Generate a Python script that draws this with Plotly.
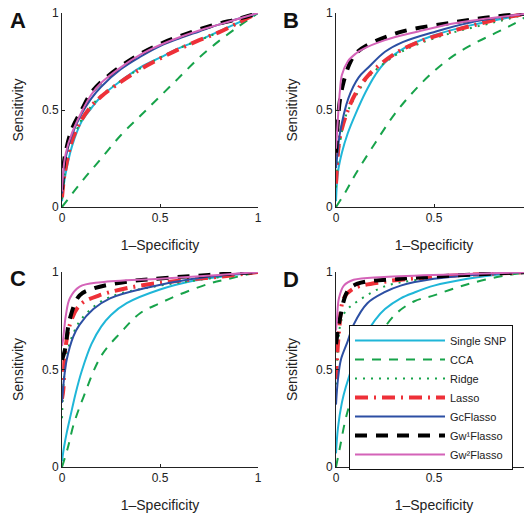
import plotly.graph_objects as go

methods = ["Single SNP", "CCA", "Ridge", "Lasso", "GcFlasso", "Gw\u00b9Flasso", "Gw\u00b2Flasso"]
panel_labels = ["A", "B", "C", "D"]
tick_vals = [0, 0.5, 1]
tick_text = ["0", "0.5", "1"]

# ---- Panel A (1-specificity, sensitivity) ----
A_snp_x = [0, 0.01, 0.02, 0.05, 0.1, 0.15, 0.2, 0.3, 0.4, 0.5, 0.6, 0.7, 0.8, 0.9, 1]
A_snp_y = [0.03, 0.12, 0.18, 0.31, 0.44, 0.51, 0.57, 0.65, 0.72, 0.77, 0.82, 0.86, 0.905, 0.95, 1]
A_cca_x = [0, 0.1, 0.2, 0.3, 0.4, 0.5, 0.6, 0.7, 0.8, 0.9, 1]
A_cca_y = [0, 0.13, 0.25, 0.37, 0.47, 0.57, 0.67, 0.77, 0.855, 0.93, 1]
A_ridge_x = [0, 0.01, 0.02, 0.05, 0.1, 0.15, 0.2, 0.3, 0.4, 0.5, 0.6, 0.7, 0.8, 0.9, 1]
A_ridge_y = [0.04, 0.14, 0.20, 0.33, 0.45, 0.52, 0.575, 0.65, 0.715, 0.77, 0.82, 0.86, 0.90, 0.95, 1]
A_lasso_x = [0, 0.01, 0.02, 0.05, 0.1, 0.15, 0.2, 0.3, 0.4, 0.5, 0.6, 0.7, 0.8, 0.9, 1]
A_lasso_y = [0.05, 0.15, 0.21, 0.34, 0.45, 0.52, 0.57, 0.645, 0.71, 0.765, 0.815, 0.86, 0.90, 0.95, 1]
A_gc_x = [0, 0.01, 0.02, 0.05, 0.1, 0.15, 0.2, 0.3, 0.4, 0.5, 0.6, 0.7, 0.8, 0.9, 1]
A_gc_y = [0.07, 0.20, 0.26, 0.37, 0.48, 0.56, 0.62, 0.71, 0.775, 0.83, 0.87, 0.905, 0.94, 0.97, 1]
A_gw1_x = [0, 0.01, 0.02, 0.05, 0.1, 0.15, 0.2, 0.3, 0.4, 0.5, 0.6, 0.7, 0.8, 0.9, 1]
A_gw1_y = [0.09, 0.23, 0.29, 0.40, 0.50, 0.59, 0.645, 0.725, 0.79, 0.84, 0.88, 0.915, 0.945, 0.97, 1]
A_gw2_x = [0, 0.01, 0.02, 0.05, 0.1, 0.15, 0.2, 0.3, 0.4, 0.5, 0.6, 0.7, 0.8, 0.9, 1]
A_gw2_y = [0.08, 0.22, 0.28, 0.38, 0.49, 0.58, 0.64, 0.72, 0.785, 0.835, 0.875, 0.91, 0.94, 0.97, 1]

# ---- Panel B ----
B_snp_x = [0, 0.01, 0.03, 0.06, 0.1, 0.15, 0.2, 0.25, 0.35, 0.5, 0.68, 0.85, 1]
B_snp_y = [0.03, 0.18, 0.28, 0.38, 0.48, 0.59, 0.68, 0.745, 0.82, 0.885, 0.935, 0.97, 1]
B_cca_x = [0, 0.05, 0.1, 0.2, 0.3, 0.4, 0.5, 0.6, 0.7, 0.8, 0.9, 1]
B_cca_y = [0, 0.08, 0.17, 0.33, 0.48, 0.60, 0.70, 0.78, 0.84, 0.89, 0.94, 1]
B_ridge_x = [0, 0.01, 0.02, 0.05, 0.1, 0.166, 0.3, 0.42, 0.6, 0.8, 1]
B_ridge_y = [0.10, 0.25, 0.33, 0.47, 0.57, 0.67, 0.78, 0.84, 0.90, 0.95, 1]
B_lasso_x = [0, 0.01, 0.02, 0.05, 0.097, 0.166, 0.3, 0.42, 0.64, 0.88, 1]
B_lasso_y = [0.12, 0.28, 0.36, 0.47, 0.58, 0.68, 0.79, 0.85, 0.92, 0.98, 1]
B_gc_x = [0, 0.01, 0.02, 0.063, 0.115, 0.166, 0.25, 0.34, 0.51, 0.68, 0.85, 1]
B_gc_y = [0.20, 0.30, 0.38, 0.56, 0.667, 0.72, 0.80, 0.85, 0.905, 0.95, 0.98, 1]
B_gw1_x = [0, 0.01, 0.02, 0.04, 0.07, 0.1, 0.17, 0.34, 0.59, 0.8, 1]
B_gw1_y = [0.28, 0.45, 0.55, 0.65, 0.74, 0.79, 0.84, 0.905, 0.95, 0.98, 1]
B_gw2_x = [0, 0.01, 0.02, 0.03, 0.06, 0.1, 0.13, 0.25, 0.42, 0.59, 0.76, 1]
B_gw2_y = [0.30, 0.46, 0.60, 0.68, 0.75, 0.79, 0.81, 0.86, 0.905, 0.945, 0.97, 1]

# ---- Panel C ----
C_snp_x = [0, 0.01, 0.025, 0.045, 0.07, 0.1, 0.15, 0.2, 0.25, 0.33, 0.5, 0.67, 0.84, 1]
C_snp_y = [0.03, 0.10, 0.18, 0.27, 0.38, 0.49, 0.63, 0.72, 0.78, 0.84, 0.91, 0.955, 0.98, 1]
C_cca_x = [0, 0.03, 0.06, 0.11, 0.2, 0.3, 0.4, 0.5, 0.6, 0.75, 0.85, 1]
C_cca_y = [0, 0.10, 0.22, 0.36, 0.57, 0.69, 0.79, 0.84, 0.885, 0.94, 0.965, 1]
C_ridge_x = [0, 0.01, 0.03, 0.06, 0.1, 0.2, 0.3, 0.5, 0.7, 1]
C_ridge_y = [0.25, 0.45, 0.60, 0.69, 0.76, 0.85, 0.89, 0.93, 0.96, 1]
C_lasso_x = [0, 0.007, 0.015, 0.04, 0.09, 0.19, 0.4, 0.84, 1]
C_lasso_y = [0.35, 0.40, 0.58, 0.73, 0.83, 0.88, 0.93, 0.98, 1]
C_gc_x = [0, 0.01, 0.024, 0.058, 0.09, 0.16, 0.245, 0.415, 0.67, 1]
C_gc_y = [0.33, 0.45, 0.55, 0.67, 0.73, 0.81, 0.865, 0.915, 0.965, 1]
C_gw1_x = [0, 0.015, 0.04, 0.09, 0.16, 0.33, 0.75, 1]
C_gw1_y = [0.55, 0.60, 0.76, 0.88, 0.915, 0.95, 0.985, 1]
C_gw2_x = [0, 0.005, 0.02, 0.04, 0.09, 0.2, 0.5, 0.8, 1]
C_gw2_y = [0.62, 0.65, 0.78, 0.865, 0.925, 0.948, 0.966, 0.985, 1]

# ---- Panel D ----
D_snp_x = [0, 0.01, 0.03, 0.05, 0.1, 0.15, 0.2, 0.25, 0.33, 0.4, 0.5, 0.67, 0.85, 1]
D_snp_y = [0.07, 0.20, 0.33, 0.41, 0.56, 0.675, 0.755, 0.81, 0.865, 0.895, 0.93, 0.965, 0.99, 1]
D_cca_x = [0, 0.02, 0.05, 0.1, 0.15, 0.2, 0.3, 0.4, 0.5, 0.6, 0.7, 0.85, 1]
D_cca_y = [0, 0.10, 0.25, 0.42, 0.55, 0.64, 0.78, 0.85, 0.88, 0.915, 0.945, 0.98, 1]
D_ridge_x = [0, 0.01, 0.024, 0.05, 0.11, 0.245, 0.415, 0.7, 1]
D_ridge_y = [0.38, 0.62, 0.74, 0.80, 0.85, 0.925, 0.96, 0.985, 1]
D_lasso_x = [0, 0.005, 0.015, 0.04, 0.09, 0.245, 0.5, 1]
D_lasso_y = [0.45, 0.55, 0.69, 0.865, 0.915, 0.95, 0.975, 1]
D_gc_x = [0, 0.01, 0.025, 0.058, 0.09, 0.16, 0.245, 0.33, 0.5, 0.7, 1]
D_gc_y = [0.32, 0.45, 0.55, 0.64, 0.73, 0.84, 0.895, 0.93, 0.965, 0.985, 1]
D_gw1_x = [0, 0.01, 0.024, 0.058, 0.11, 0.33, 0.76, 1]
D_gw1_y = [0.63, 0.70, 0.78, 0.90, 0.94, 0.965, 0.99, 1]
D_gw2_x = [0, 0.005, 0.015, 0.04, 0.09, 0.245, 0.67, 1]
D_gw2_y = [0.70, 0.76, 0.865, 0.93, 0.96, 0.975, 0.99, 1]

panels = [
    [(A_snp_x, A_snp_y), (A_cca_x, A_cca_y), (A_ridge_x, A_ridge_y), (A_lasso_x, A_lasso_y),
     (A_gc_x, A_gc_y), (A_gw1_x, A_gw1_y), (A_gw2_x, A_gw2_y)],
    [(B_snp_x, B_snp_y), (B_cca_x, B_cca_y), (B_ridge_x, B_ridge_y), (B_lasso_x, B_lasso_y),
     (B_gc_x, B_gc_y), (B_gw1_x, B_gw1_y), (B_gw2_x, B_gw2_y)],
    [(C_snp_x, C_snp_y), (C_cca_x, C_cca_y), (C_ridge_x, C_ridge_y), (C_lasso_x, C_lasso_y),
     (C_gc_x, C_gc_y), (C_gw1_x, C_gw1_y), (C_gw2_x, C_gw2_y)],
    [(D_snp_x, D_snp_y), (D_cca_x, D_cca_y), (D_ridge_x, D_ridge_y), (D_lasso_x, D_lasso_y),
     (D_gc_x, D_gc_y), (D_gw1_x, D_gw1_y), (D_gw2_x, D_gw2_y)],
]

styles = [
    dict(color="#1fb6d8", width=2, dash="solid"),
    dict(color="#17a34a", width=2, dash="9px,8px"),
    dict(color="#17a34a", width=2, dash="2px,6px"),
    dict(color="#ee3038", width=4, dash="13px,6px,2px,6px"),
    dict(color="#2c4fa3", width=2, dash="solid"),
    dict(color="#000000", width=4, dash="12px,9px"),
    dict(color="#d463b8", width=2, dash="solid"),
]

# page has an 8px body margin; figure sized to fit the 532x518 window
W, H = 524, 510
xdoms = [(54 / W, 250 / W), (328 / W, 1.0)]
ydoms = [(1 - 199 / H, 1 - 5 / H), (1 - 459 / H, 1 - 264 / H)]
letter_xy = [(0, -2), (273, -2), (0, 256), (273, 257)]

fig = go.Figure()
font_family = "Liberation Sans, Arial, sans-serif"

for p in range(4):
    r, c = divmod(p, 2)
    ax = "" if p == 0 else str(p + 1)
    for m in range(7):
        xs, ys = panels[p][m]
        fig.add_trace(go.Scatter(
            x=xs, y=ys, mode="lines", name=methods[m],
            line=styles[m], line_shape="spline",
            xaxis="x" + ax, yaxis="y" + ax,
            showlegend=(p == 3), legendrank=m,
        ))
    common = dict(range=[0, 1], tickvals=tick_vals, ticktext=tick_text,
                  showline=True, linecolor="#222", linewidth=1, ticks="inside",
                  ticklen=3, tickcolor="#222", showgrid=False, zeroline=False,
                  automargin=False, ticklabeloverflow="allow",
                  tickfont=dict(size=12, color="#222", family=font_family))
    fig.layout["xaxis" + ax] = dict(common, domain=xdoms[c], anchor="y" + ax,
                                    title=dict(text="1\u2013Specificity", standoff=15,
                                               font=dict(size=14, color="#222", family=font_family)))
    fig.layout["yaxis" + ax] = dict(common, domain=ydoms[r], anchor="x" + ax,
                                    title=dict(text="Sensitivity", standoff=15,
                                               font=dict(size=14, color="#222", family=font_family)))
    lx, ly = letter_xy[p]
    fig.add_annotation(text="<b>" + panel_labels[p] + "</b>", xref="paper", yref="paper",
                       x=lx / W, y=1 - ly / H,
                       xanchor="left", yanchor="top", showarrow=False,
                       font=dict(size=22, color="#111", family=font_family))

fig.update_layout(
    width=W, height=H, margin=dict(l=0, r=0, t=0, b=0),
    paper_bgcolor="white", plot_bgcolor="white",
    showlegend=True,
    legend=dict(x=341 / W, y=1 - 317 / H, xanchor="left", yanchor="top",
                bgcolor="white", bordercolor="#111", borderwidth=1,
                font=dict(size=11, color="#222", family=font_family),
                tracegroupgap=0, itemwidth=90),
)

fig.write_html("out.html")
